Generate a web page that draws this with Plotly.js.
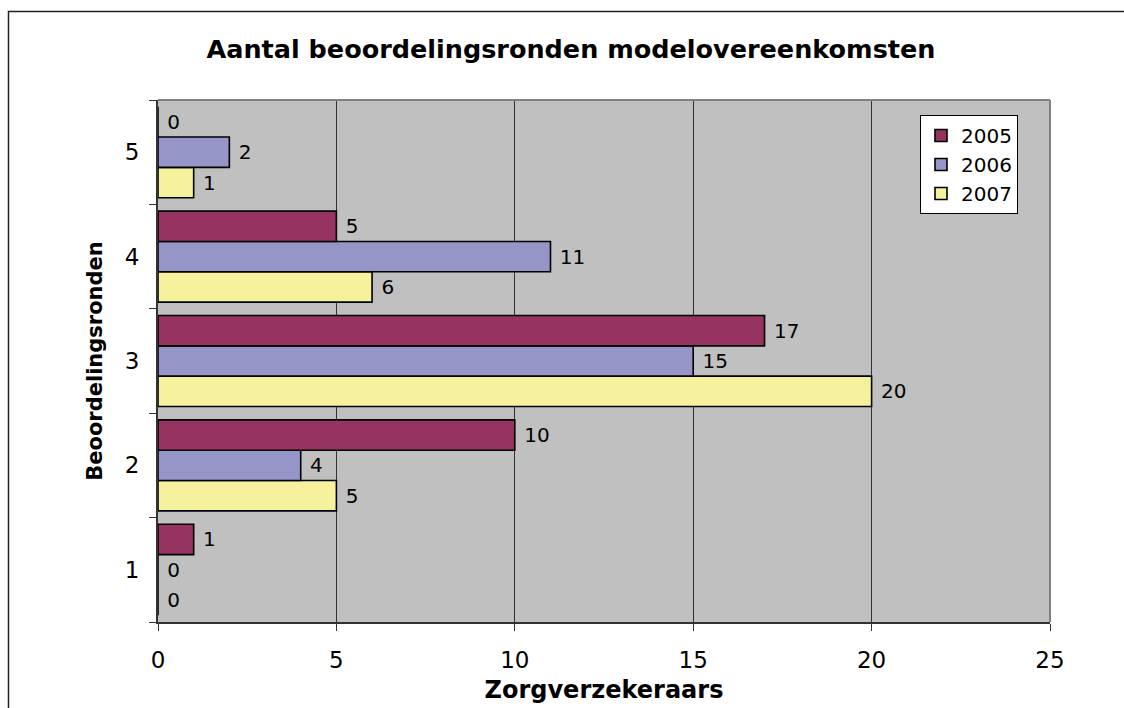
<!DOCTYPE html>
<html>
<head>
<meta charset="utf-8">
<script src="https://cdn.plot.ly/plotly-3.0.1.min.js"></script>
<style>
html,body{margin:0;padding:0;background:#fff;}
#chart{width:1124px;height:708px;}
</style>
</head>
<body>
<div id="chart"></div>
<script>
const categories = ['1', '2', '3', '4', '5'];
const years = ['2005', '2006', '2007'];
const v2005 = [1, 10, 17, 5, 0];
const v2006 = [0, 4, 15, 11, 2];
const v2007 = [0, 5, 20, 6, 1];
const xTicks = [0, 5, 10, 15, 20, 25];

const colors = {'2005': '#963360', '2006': '#9595C8', '2007': '#F6F19D'};
const series = {'2005': v2005, '2006': v2006, '2007': v2007};

const font = 'DejaVu Sans, Verdana, sans-serif';

// Plotly puts the first horizontal trace at the bottom of each group
const traces = years.slice().reverse().map(function (yr) {
  return {
    type: 'bar',
    orientation: 'h',
    name: yr,
    y: categories,
    x: series[yr],
    text: series[yr].map(function (v) { return '\u00A0' + v; }),
    textposition: 'outside',
    textfont: {family: font, size: 20, color: '#000'},
    cliponaxis: false,
    marker: {color: colors[yr], line: {color: '#000', width: 1.6}},
    hoverinfo: 'x+y+name'
  };
});

const L = 158, R = 1050, T = 100, B = 622;
const W = R - L, H = B - T;
function px(x) { return (x - L) / W; }
function py(y) { return (B - y) / H; }

const layout = {
  width: 1124,
  height: 708,
  margin: {l: L, r: 1124 - R, t: T, b: 708 - B, pad: 0},
  paper_bgcolor: '#ffffff',
  plot_bgcolor: '#c0c0c0',
  barmode: 'group',
  bargap: 0.128,
  bargroupgap: 0,
  showlegend: true,
  title: {
    text: 'Aantal beoordelingsronden modelovereenkomsten',
    font: {family: font, size: 25.5, color: '#000', weight: 'bold'},
    x: 0.508, xanchor: 'center',
    y: 1 - 49 / 708, yanchor: 'middle'
  },
  font: {family: font, color: '#000'},
  xaxis: {
    range: [0, 25],
    tickvals: xTicks,
    ticktext: xTicks.map(String),
    ticks: 'outside',
    ticklen: 7,
    tickcolor: '#333',
    tickwidth: 1,
    ticklabelstandoff: 9,
    tickfont: {family: font, size: 23, color: '#000'},
    showgrid: true,
    gridcolor: '#333',
    gridwidth: 1,
    zeroline: false,
    showline: true,
    linecolor: '#333',
    linewidth: 2,
    fixedrange: true,
    title: {text: 'Zorgverzekeraars', font: {family: font, size: 24, color: '#000', weight: 'bold'}, standoff: 10}
  },
  yaxis: {
    type: 'category',
    categoryorder: 'array',
    categoryarray: categories,
    tickson: 'boundaries',
    ticks: 'outside',
    ticklen: 7,
    tickcolor: '#333',
    tickwidth: 1,
    ticklabelstandoff: 12,
    tickfont: {family: font, size: 23, color: '#000'},
    showgrid: false,
    zeroline: false,
    showline: true,
    linecolor: '#333',
    linewidth: 2,
    fixedrange: true,
    title: {text: 'Beoordelingsronden', font: {family: font, size: 21, color: '#000', weight: 'bold'}, standoff: 16}
  },
  legend: {
    x: px(920), y: py(115), xanchor: 'left', yanchor: 'top',
    bgcolor: '#ffffff',
    bordercolor: '#000',
    borderwidth: 1,
    traceorder: 'reversed',
    font: {family: font, size: 20, color: '#000'},
    itemwidth: 30,
    tracegroupgap: 0
  },
  shapes: [
    {type: 'line', xref: 'paper', yref: 'paper', x0: 0, x1: 1, y0: 1, y1: 1, line: {color: '#808080', width: 2}},
    {type: 'line', xref: 'paper', yref: 'paper', x0: 1, x1: 1, y0: 0, y1: 1, line: {color: '#808080', width: 2}},
    {type: 'rect', xref: 'paper', yref: 'paper', x0: px(8.5), x1: px(1140), y0: py(720), y1: py(11.5), line: {color: '#222', width: 1.5}, fillcolor: 'rgba(0,0,0,0)', layer: 'below'}
  ]
};

Plotly.newPlot('chart', traces, layout, {displayModeBar: false, staticPlot: true});
</script>
</body>
</html>
